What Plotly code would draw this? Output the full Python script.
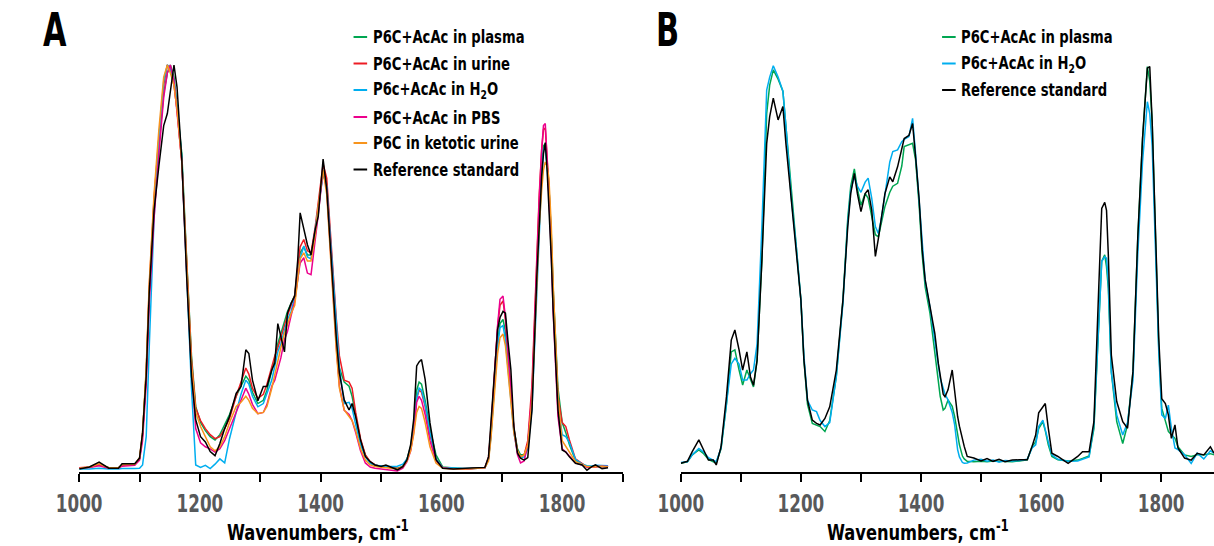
import plotly.graph_objects as go

# ---- panel A : wavenumbers and intensities ----
wn_a = [1000, 1017, 1033, 1049, 1065, 1071, 1092, 1100, 1105, 1111,
        1116, 1124, 1132, 1140, 1146, 1151, 1157, 1162, 1170, 1178,
        1186, 1193, 1201, 1209, 1217, 1225, 1233, 1241, 1249, 1260,
        1268, 1276, 1281, 1287, 1296, 1305, 1311, 1319, 1324, 1329,
        1334, 1340, 1345, 1351, 1357, 1362, 1366, 1372, 1378, 1384,
        1391, 1396, 1404, 1410, 1415, 1420, 1426, 1431, 1439, 1447,
        1452, 1458, 1466, 1474, 1482, 1490, 1500, 1508, 1518, 1527,
        1536, 1543, 1549, 1554, 1559, 1563, 1567, 1573, 1581, 1591,
        1602, 1620, 1640, 1660, 1672, 1678, 1682, 1687, 1693, 1697,
        1702, 1706, 1710, 1715, 1720, 1726, 1731, 1737, 1743, 1750,
        1758, 1762, 1766, 1769, 1772, 1775, 1778, 1782, 1785, 1793,
        1800, 1806, 1812, 1822, 1833, 1841, 1849, 1855, 1866, 1876]

plasma_a = [0.2, 0.4, 1.0, 0.3, 0.3, 0.9, 1.1, 2.5, 8.5, 24,
            44, 66, 80, 93, 98, 100, 97, 90, 78, 52,
            28, 15.5, 11.5, 9.5, 8.0, 7.2, 8.5, 11, 13.5, 18,
            20.5, 23, 22, 19, 16.2, 17, 19.5, 24, 27.5, 31,
            33.5, 36.5, 39, 41, 43, 49, 53.5, 55, 53, 53,
            58, 64, 74, 70.5, 60, 48, 34, 25, 21.5, 20.5,
            18, 13, 7, 3.5, 1.5, 0.9, 0.7, 0.5, 0.3, 0.2,
            0.6, 2.5, 5.5, 11, 19.5, 21.5, 21, 17, 10, 3.5,
            0.5, 0.2, 0.0, 0.2, 0.3, 2.5, 8.5, 19, 31, 36,
            37, 34, 27, 18, 10, 5, 3.5, 3.5, 6, 18,
            49, 64, 75, 80, 80.5, 76, 70, 58, 45, 20,
            11.5, 9, 6, 2.2, 1.2, 0.6, 0.6, 0.7, 0.7, 0.7]

urine_a = [0.3, 0.5, 1.1, 0.3, 0.3, 1.0, 1.1, 2.6, 8.5, 24,
           45, 67, 82, 95, 100, 99, 95, 89, 76, 50,
           27, 15, 12, 10, 8.5, 7.5, 8.0, 10, 12.5, 18,
           21.5, 25, 23.5, 20, 17.5, 18.5, 21, 25.5, 28, 30,
           32.5, 36, 38, 40.5, 43, 50, 55, 56.8, 54, 53.5,
           60, 66, 75.5, 72, 62, 50, 37, 28, 22, 21.5,
           20, 14, 7.5, 3.5, 1.8, 1.0, 0.6, 0.6, 0.3, 0.1,
           0.6, 2.2, 5, 10, 17.5, 19.5, 19, 15.5, 8.5, 2.5,
           0.4, 0.1, 0.0, 0.3, 0.4, 3, 10, 21.5, 35, 40.5,
           41.6, 37, 29, 19, 10, 4.5, 3, 3.5, 7, 21,
           53, 68, 79, 84, 84.4, 78, 70, 57, 44, 18,
           11.5, 10.5, 7.2, 2.5, 1.3, 0.5, 0.5, 0.6, 0.7, 0.6]

h2o_a = [0.0, 0.0, 0.2, 0.0, 0.0, 0.1, 0.1, 0.2, 1.0, 8,
         30, 62, 82, 96, 100, 99, 96, 90, 77, 48,
         20, 1.0, 0.4, 0.9, 0.1, 1.2, 2.5, 1.5, 7.5, 14,
         18.5, 22, 21, 18, 15.4, 16.2, 18.5, 22, 25.5, 29,
         31, 34, 37, 39, 42.5, 47, 52, 55.2, 52.5, 52,
         59, 65, 73, 70, 60, 49, 36, 25, 16.2, 16.5,
         15, 11, 6, 3, 1.4, 0.9, 0.7, 0.6, 0.6, 0.7,
         1.2, 2.5, 5, 10, 17.5, 20, 19.5, 16, 9, 2.5,
         0.4, 0.2, 0.1, 0.3, 0.3, 2.5, 8, 18.5, 30.5, 35,
         35.5, 32, 25, 16.5, 9, 4, 2.8, 3, 5, 15,
         44, 59, 72, 79, 80, 75, 68, 55, 42, 16,
         8.5, 8, 6.5, 2.4, 1.2, 0.8, 0.7, 0.9, 0.9, 0.8]

pbs_a = [0.3, 0.4, 0.8, 0.2, 0.2, 0.7, 0.9, 2.2, 7, 21,
         41, 62, 78, 92, 98, 100, 96, 88, 76, 49,
         25, 10, 6.5, 5.5, 5.0, 4.2, 5.0, 7, 10, 14.5,
         17.5, 20, 18.5, 16, 13.7, 14, 16, 20.5, 22, 25,
         27.5, 32, 34, 38, 41.5, 47, 51, 52.3, 48.5, 48.1,
         56, 63, 74, 69, 57, 44, 30, 20.5, 14.5, 13.5,
         12, 9, 4.5, 1.5, 0.5, 0.2, 0.0, 0.0, -0.3, -0.5,
         0.2, 1.8, 4.5, 9, 16.5, 18, 17, 13.5, 7, 2.0,
         0.3, 0.0, 0.0, 0.2, 0.3, 2.5, 9, 21, 35.5, 42,
         42.8, 37.5, 29, 19, 9.5, 3.5, 1.5, 2, 6, 19,
         52, 67, 79, 85, 85.5, 78, 68, 53, 39, 13,
         5, 4.2, 3.2, 1.5, 1.0, 0.5, 0.5, 0.6, 0.7, 0.6]

ketotic_a = [0.2, 0.5, 1.3, 0.3, 0.3, 1.1, 1.2, 2.8, 9, 25,
             46, 68, 84, 97, 100, 98, 95, 89, 76, 50,
             26, 14, 10.5, 8, 5.5, 4.5, 5.5, 8, 11.5, 15.5,
             16.5, 18, 17, 15, 13.7, 14, 15.5, 20, 23.5, 27,
             30, 33.5, 36, 38.5, 40.5, 47.5, 52, 53.5, 51.5, 51.5,
             58, 65, 74, 68, 55, 42, 29, 20, 14.6, 13,
             12, 9.5, 5, 2.2, 1.0, 0.6, 0.4, 0.3, 0.1, 0.0,
             0.5, 2.0, 4.5, 8.5, 14, 15.5, 15, 11.5, 5.5, 1.5,
             0.2, 0.0, 0.0, 0.2, 0.3, 2, 7.5, 17, 28.5, 32.5,
             33.4, 30.5, 24, 16, 9, 4.5, 3, 3.5, 6, 17,
             47, 60, 69, 74, 76, 75, 72, 60, 46, 18,
             7, 5.5, 4, 1.8, 1.1, 0.6, 0.5, 0.6, 0.7, 0.5]

ref_a = [0.0, 0.5, 1.7, 0.2, 0.2, 1.3, 1.3, 2.7, 9, 23,
         43.5, 64, 75, 85, 88, 93, 100, 94.6, 76.5, 47.6,
         23, 12.2, 8.0, 6.7, 4.3, 3.3, 6.3, 10, 13, 18.7,
         20.4, 29.5, 28.6, 22, 16.9, 20.4, 20.4, 24.5, 26.2, 36,
         32.8, 29, 38.6, 41, 42.8, 51.8, 63.4, 59.5, 55.5, 53,
         59.3, 62.6, 76.7, 69.3, 56.8, 44.4, 32, 23.7, 17.1, 14.6,
         16.2, 12.9, 7.2, 3.1, 1.8, 1.0, 0.6, 1.0, 0.4, -0.2,
         0.6, 2.3, 6, 12.2, 25.5, 26.5, 27.1, 22.2, 11.4, 2.3,
         0.2, 0.0, 0.2, 0.4, 0.4, 3, 10.5, 22, 34.5, 37.5,
         39, 38.6, 32, 24.6, 10.5, 3.9, 2.7, 2.2, 2.8, 14.6,
         47.7, 61, 72.5, 78, 80.8, 74, 66, 52, 39.5, 14.6,
         4.7, 4.2, 3, 1.4, 1.0, -0.3, 0.6, 1.0, 0.1, 0.3]

# ---- panel B ----
wn_b = [1000, 1011, 1019, 1030, 1038, 1046, 1054, 1059, 1067, 1076,
        1084, 1090, 1097, 1103, 1110, 1116, 1121, 1127, 1135, 1143,
        1148, 1154, 1162, 1170, 1175, 1184, 1192, 1200, 1205, 1211,
        1219, 1226, 1232, 1240, 1248, 1259, 1270, 1278, 1283, 1289,
        1294, 1300, 1307, 1312, 1318, 1324, 1329, 1334, 1340, 1348,
        1353, 1361, 1368, 1372, 1380, 1386, 1391, 1397, 1402, 1407,
        1415, 1423, 1429, 1432, 1437, 1440, 1445, 1452, 1456, 1461,
        1464, 1469, 1472, 1477, 1488, 1500, 1510, 1520, 1530, 1540,
        1552, 1564, 1577, 1585, 1591, 1596, 1603, 1607, 1612, 1618,
        1628, 1645, 1661, 1669, 1680, 1688, 1696, 1701, 1706, 1709,
        1712, 1717, 1726, 1736, 1744, 1753, 1761, 1769, 1777, 1781,
        1785, 1790, 1796, 1801, 1807, 1812, 1817, 1823, 1828, 1839,
        1850, 1860, 1871, 1882, 1888]

plasma_b = [1.4, 1.8, 3.5, 4.7, 3.8, 2.4, 1.8, 1.6, 5.0, 16,
            29, 29.5, 24.5, 20.8, 24.5, 22, 20.3, 26.9, 51.7, 88,
            95, 98.8, 96.5, 93.5, 85, 68.2, 56.5, 41.8, 27, 16,
            11.3, 10.8, 10.5, 9.3, 12, 23, 41.8, 62, 70, 74.3,
            69.4, 65.3, 68.2, 67, 62, 58, 57.5, 61, 65, 68.5,
            70, 70.7, 75, 79.8, 80.3, 80.6, 76.5, 65, 53, 45,
            38.5, 29, 21.2, 18, 14.6, 15, 17.1, 15.5, 13, 8,
            6, 3.2, 2.5, 1.9, 1.8, 1.9, 1.8, 2.0, 1.9, 1.9,
            1.8, 2.0, 2.3, 5.6, 6.7, 10, 11.7, 9.5, 6, 3.1,
            2.3, 2.0, 2.2, 2.6, 3.2, 10, 36.5, 51.4, 53, 50,
            44.7, 24, 11.7, 6.3, 11, 24, 57, 81.8, 99.6, 96,
            86, 59.5, 30, 15, 11.7, 9.3, 8.5, 7.6, 5.5, 3.5,
            3.1, 3.5, 3.5, 3.8, 3.5]

h2o_b = [1.6, 1.8, 3.5, 5.1, 4.2, 2.8, 2.2, 1.8, 5.2, 15.5,
         26, 27.4, 26, 22, 22, 23.6, 24.5, 31, 60, 93.8,
         97, 99.8, 97, 93.5, 85, 67, 55.5, 41.8, 28, 17,
         14.6, 14.2, 12, 10.5, 11.5, 23, 41, 61, 69, 72.4,
         70, 68.5, 71, 72, 67, 60, 58.3, 62, 68, 76,
         78.6, 79, 81, 81.6, 82.3, 86.8, 78, 66, 54, 46.5,
         40, 32, 25.3, 22.5, 20, 18.5, 17.1, 14, 11, 4.8,
         3, 1.6, 1.4, 1.5, 2.2, 2.4, 1.9, 2.2, 1.7, 2.1,
         2.0, 2.1, 2.4, 5.2, 6, 10.5, 12.1, 10, 6.7, 3.5,
         2.4, 1.9, 2.0, 2.4, 3.0, 11, 36.5, 51.4, 52.5, 52.2,
         46, 24, 13.4, 8.4, 11.5, 22, 53, 76, 90.9, 88,
         80, 57, 29, 13.4, 12.5, 15.8, 10.1, 5.2, 4.8, 3.5,
         1.4, 3.9, 2.5, 4.5, 3.9]

ref_b = [1.4, 1.9, 4.3, 7.2, 4.7, 2.2, 2.2, 1.0, 5.5, 17.9,
         31.9, 34.4, 29.5, 24.5, 29, 22.8, 20.7, 26.9, 51.7, 80.6,
         87.2, 91.8, 86.4, 89.7, 80.6, 66.6, 55, 41.8, 27, 17,
         12.1, 11.3, 10.9, 12.5, 15.4, 24.5, 41.8, 60, 68.2, 73.2,
         68.2, 63.7, 68.2, 69.1, 64, 52.6, 57, 62.5, 68.2, 72.3,
         71.1, 74.8, 79, 81.8, 82.6, 85.5, 77.3, 66.6, 54.3, 46.8,
         40.2, 33.6, 26, 22.8, 18.5, 17.9, 19.6, 24.5, 18.7, 13,
         10.6, 7, 5.6, 3.1, 2.7, 2.0, 2.6, 1.9, 2.4, 1.8,
         2.2, 2.3, 2.3, 5.6, 8.4, 13.9, 15.5, 16.2, 10.1, 3.9,
         3.1, 1.4, 3.1, 4.3, 4.3, 11.7, 44.7, 64.5, 66, 64,
         53, 28.2, 16.7, 11.7, 10.1, 24.1, 57.1, 81.8, 99.2, 99.6,
         86, 61.2, 32.3, 17.4, 16.2, 13.4, 7.6, 10.9, 5.2, 2.7,
         2.2, 3.9, 3.5, 5.5, 3.9]

tick_vals = [1000, 1200, 1400, 1600, 1800]
tick_text = ["1000", "1200", "1400", "1600", "1800"]

GREEN = "#00a651"
RED = "#ed1c24"
CYAN = "#00aeef"
MAGENTA = "#ec008c"
ORANGE = "#f7941d"
BLACK = "#000000"

FONT = "DejaVu Sans, sans-serif"
W, H = 1214, 546


def fnt(size, color="black"):
    return dict(family=FONT, size=size, color=color, weight="bold")


series_a = [
    ("P6C+AcAc in plasma", plasma_a, GREEN),
    ("P6C+AcAc in urine", urine_a, RED),
    ("P6c+AcAc in H<sub>2</sub>O", h2o_a, CYAN),
    ("P6C+AcAc in PBS", pbs_a, MAGENTA),
    ("P6C in ketotic urine", ketotic_a, ORANGE),
    ("Reference standard", ref_a, BLACK),
]
series_b = [
    ("P6C+AcAc in plasma", plasma_b, GREEN),
    ("P6c+AcAc in H<sub>2</sub>O", h2o_b, CYAN),
    ("Reference standard", ref_b, BLACK),
]

fig = go.Figure()
for name, ys, col in series_a:
    fig.add_trace(go.Scatter(x=wn_a, y=ys, mode="lines", name=name,
                             line=dict(color=col, width=1.5),
                             xaxis="x", yaxis="y", showlegend=False))
for name, ys, col in series_b:
    fig.add_trace(go.Scatter(x=wn_b, y=ys, mode="lines", name=name,
                             line=dict(color=col, width=1.5),
                             xaxis="x2", yaxis="y2", showlegend=False))

# pixel geometry of the two panels
y_axis_px = 472
y_top_px = 55
base_px = 469
unit_px = 4.04
ydom = [1 - y_axis_px / H, 1 - y_top_px / H]
yrange = [-(y_axis_px - base_px) / unit_px, (base_px - y_top_px) / unit_px]


def xaxis_style(dom, rng, minor_vals):
    return dict(domain=dom, range=rng, showgrid=False, zeroline=False,
                showline=True, linecolor="black", linewidth=2,
                ticks="outside", ticklen=8, tickwidth=1.5, tickcolor="black",
                tickvals=tick_vals, ticktext=tick_text,
                tickfont=fnt(25, "#58595b"),
                minor=dict(tickvals=minor_vals, ticks="outside", ticklen=8,
                           tickwidth=1.5, tickcolor="black"),
                fixedrange=True)


def yaxis_style(anchor):
    return dict(domain=ydom, range=yrange, visible=False, anchor=anchor,
                fixedrange=True)


ax_a = xaxis_style([45.5 / W, 605 / W], [1000, 1900], [1100, 1300, 1500, 1700, 1900])
ax_a["anchor"] = "y"
ax_b = xaxis_style([665 / W, 1.0], [1000, 1888], [1100, 1300, 1500, 1700])
ax_b["anchor"] = "y2"

annotations = []
shapes = []


def add_legend(items, sym_x0, text_x, rows_y):
    for (name, _, col), py in zip(items, rows_y):
        shapes.append(dict(type="line", xref="paper", yref="paper",
                           x0=sym_x0 / W, x1=(sym_x0 + 14) / W,
                           y0=1 - py / H, y1=1 - py / H,
                           line=dict(color=col, width=2)))
        annotations.append(dict(text=name, xref="paper", yref="paper",
                                x=text_x / W, y=1 - py / H,
                                xanchor="left", yanchor="middle", showarrow=False,
                                font=fnt(18)))


# annotations 0-8: legend rows
add_legend(series_a, 328, 346, [37, 63.5, 90, 117, 143, 169.5])
add_legend(series_b, 934, 951, [37, 63.5, 90])

# annotations 9-10: panel letters
for letter, px in [("A", 21), ("B", 651)]:
    annotations.append(dict(text=letter, xref="paper", yref="paper",
                            x=px / W, y=1 - 30 / H, xanchor="center", yanchor="middle",
                            showarrow=False, font=fnt(46)))

# annotations 11-12: axis titles
for xr in ["x", "x2"]:
    annotations.append(dict(text="Wavenumbers, cm<sup>-1</sup>", xref=xr, yref="paper",
                            x=1395, y=1 - 531 / H, xanchor="center", yanchor="middle",
                            showarrow=False, font=fnt(22)))

fig.update_layout(width=W, height=H, autosize=False,
                  margin=dict(l=0, r=0, t=0, b=0),
                  paper_bgcolor="white", plot_bgcolor="white",
                  xaxis=ax_a, yaxis=yaxis_style("x"),
                  xaxis2=ax_b, yaxis2=yaxis_style("x2"),
                  annotations=annotations, shapes=shapes,
                  showlegend=False)

# the original uses a condensed bold face; squeeze the bold glyphs horizontally
squeeze_js = """
document.body.style.margin='0px';
var gd=document.getElementById('{plot_id}');
function sq(t,f,keepLeft){
  if(!t){return;}
  var w=t.getComputedTextLength();
  if(!(w>0)){return;}
  var b0=t.getBBox();
  t.setAttribute('lengthAdjust','spacingAndGlyphs');
  t.setAttribute('textLength',(w*f).toFixed(2));
  if(keepLeft){
    var b1=t.getBBox();
    t.setAttribute('transform','translate('+(b0.x-b1.x).toFixed(2)+',0)');
  }
}
gd.querySelectorAll('.xtick text, .x2tick text').forEach(function(t){sq(t,0.67,false);});
gd.querySelectorAll('g.annotation').forEach(function(g){
  var i=parseInt(g.getAttribute('data-index'));
  var t=g.querySelector('text.annotation-text');
  if(i<9){sq(t,0.73,true);}
  else if(i<11){sq(t,0.66,false);}
  else{sq(t,0.74,false);}
});
"""

fig.write_html("out.html", config={"displayModeBar": False}, post_script=squeeze_js)
